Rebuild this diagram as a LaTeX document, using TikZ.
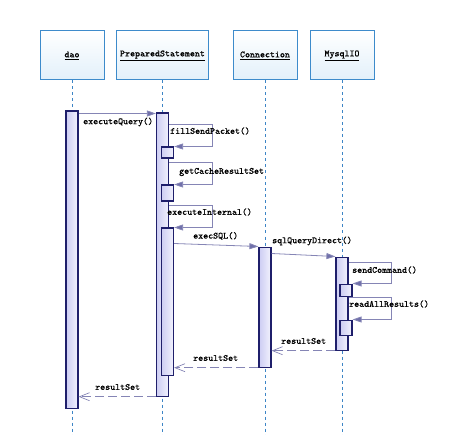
\documentclass[tikz,border=0pt]{standalone}
\usepackage{fontspec}
\setmonofont[FakeBold=0.6]{Latin Modern Mono}
\usetikzlibrary{positioning,arrows.meta}
\definecolor{headline}{HTML}{3D8BCB}
\definecolor{headfill}{HTML}{E2F0FA}
\definecolor{lifeblue}{HTML}{3D85C6}
\definecolor{actline}{HTML}{1F1F6B}
\definecolor{actdark}{HTML}{CDCDF3}
\definecolor{actlight}{HTML}{F2F2FD}
\definecolor{msgline}{HTML}{8585B5}
\definecolor{msgtip}{HTML}{7070AA}
\tikzset {
    style head/.style={
        top color=white,
        bottom color=headfill,
        draw=headline,
        line width=1pt,
        rectangle, % header of a lifeline
        minimum width=64pt,
        minimum height=49pt,
        align=center,
    },
    style act/.style={
        left color=actdark,
        right color=actlight,
        draw=actline,
        line width=1.2pt,
        rectangle, % activation bar
        minimum width=12pt,
        inner sep=0pt,
    },
    style life/.style={
        draw=lifeblue,
        line width=0.8pt,
        dash pattern=on 3pt off 3pt,
    },
    style msg/.style={
        draw=msgline,
        line width=0.8pt,
        -{Triangle[length=9pt,width=6pt,fill=msgtip]},
    },
    style ret/.style={
        draw=msgline,
        line width=0.8pt,
        dash pattern=on 9pt off 4pt,
        -{Straight Barb[length=10pt,width=8pt,line width=0.7pt]},
    },
    style lbl/.style={
        inner sep=0pt,
        anchor=west,
    },
}
\begin{document}
\begin{tikzpicture}
[x=1pt, y=-1pt, font=\ttfamily\fontsize{9.5}{11}\selectfont]
\useasboundingbox (0,0) rectangle (462,435);
\coordinate (bottom) at (0,435);

\node[style head] (dao) at (72,55.5) {\underline{dao}};
\node[style head, minimum width=92pt] (ps) at (162.5,55.5) {\underline{PreparedStatement}};
\node[style head] (conn) at (265,55.5) {\underline{Connection}};
\node[style head] (mysql) at (342,55.5) {\underline{MysqlIO}};

\foreach \n in {dao,ps,conn,mysql}
    \draw[style life] (\n.south) -- (\n.south |- bottom);

% activation bars
\node[style act, minimum height=297pt, below=30pt of dao] (daoAct) {};
\node[style act, minimum height=283pt, below=32pt of ps] (psAct) {};
\node[style act, minimum height=120pt, below=166pt of conn] (connAct) {};
\node[style act, minimum height=93pt, below=176pt of mysql] (mysqlAct) {};
\node[style act, minimum height=11pt, anchor=north west] at ([xshift=5pt,yshift=-34pt]psAct.north west) (fillAct) {};
\node[style act, minimum height=16pt, anchor=north west] at ([xshift=5pt,yshift=-72pt]psAct.north west) (getAct) {};
\node[style act, minimum height=147pt, anchor=north west] at ([xshift=5pt,yshift=-115pt]psAct.north west) (execAct) {};
\node[style act, minimum height=12pt, anchor=north west] at ([xshift=4pt,yshift=-27pt]mysqlAct.north west) (sendAct) {};
\node[style act, minimum height=15pt, anchor=north west] at ([xshift=4pt,yshift=-63pt]mysqlAct.north west) (readAct) {};

% calls
\draw[style msg] ([yshift=-3pt]daoAct.north east) -- ([yshift=-1pt]psAct.north west);
\draw[style msg] ([yshift=-12pt]psAct.north east) -- ++(43,0) |- (fillAct.north east);
\draw[style msg] ([yshift=-50pt]psAct.north east) -- ++(43,0) |- (getAct.north east);
\draw[style msg] ([yshift=-93pt]psAct.north east) -- ++(43,0) |- (execAct.north east);
\draw[style msg] ([yshift=-16pt]execAct.north east) -- (connAct.north west);
\draw[style msg] ([yshift=-7pt]connAct.north east) -- (mysqlAct.north west);
\draw[style msg] ([yshift=-6pt]mysqlAct.north east) -- ++(43,0) |- (sendAct.north east);
\draw[style msg] ([yshift=-41pt]mysqlAct.north east) -- ++(43,0) |- (readAct.north east);

% returns
\draw[style ret] (mysqlAct.south west) -- (connAct.east |- mysqlAct.south west);
\draw[style ret] (connAct.south west) -- (execAct.east |- connAct.south west);
\draw[style ret] (psAct.south west) -- (daoAct.east |- psAct.south west);

% labels
\node[style lbl] (lQuery) at (83,122) {executeQuery()};
\node[style lbl] (lFill) at (170,131) {fillSendPacket()};
\node[style lbl] (lCache) at (179,172) {getCacheResultSet};
\node[style lbl] (lInternal) at (167,212) {executeInternal()};
\node[style lbl] (lSql) at (193,236) {execSQL()};
\node[style lbl] (lDirect) at (272,241) {sqlQueryDirect()};
\node[style lbl] (lSend) at (352,270) {sendCommand()};
\node[style lbl] (lRead) at (349,304) {readAllResults()};
\node[style lbl] (lRes1) at (281,341) {resultSet};
\node[style lbl] (lRes2) at (193,358) {resultSet};
\node[style lbl] (lRes3) at (95,387) {resultSet};
\end{tikzpicture}
\end{document}
